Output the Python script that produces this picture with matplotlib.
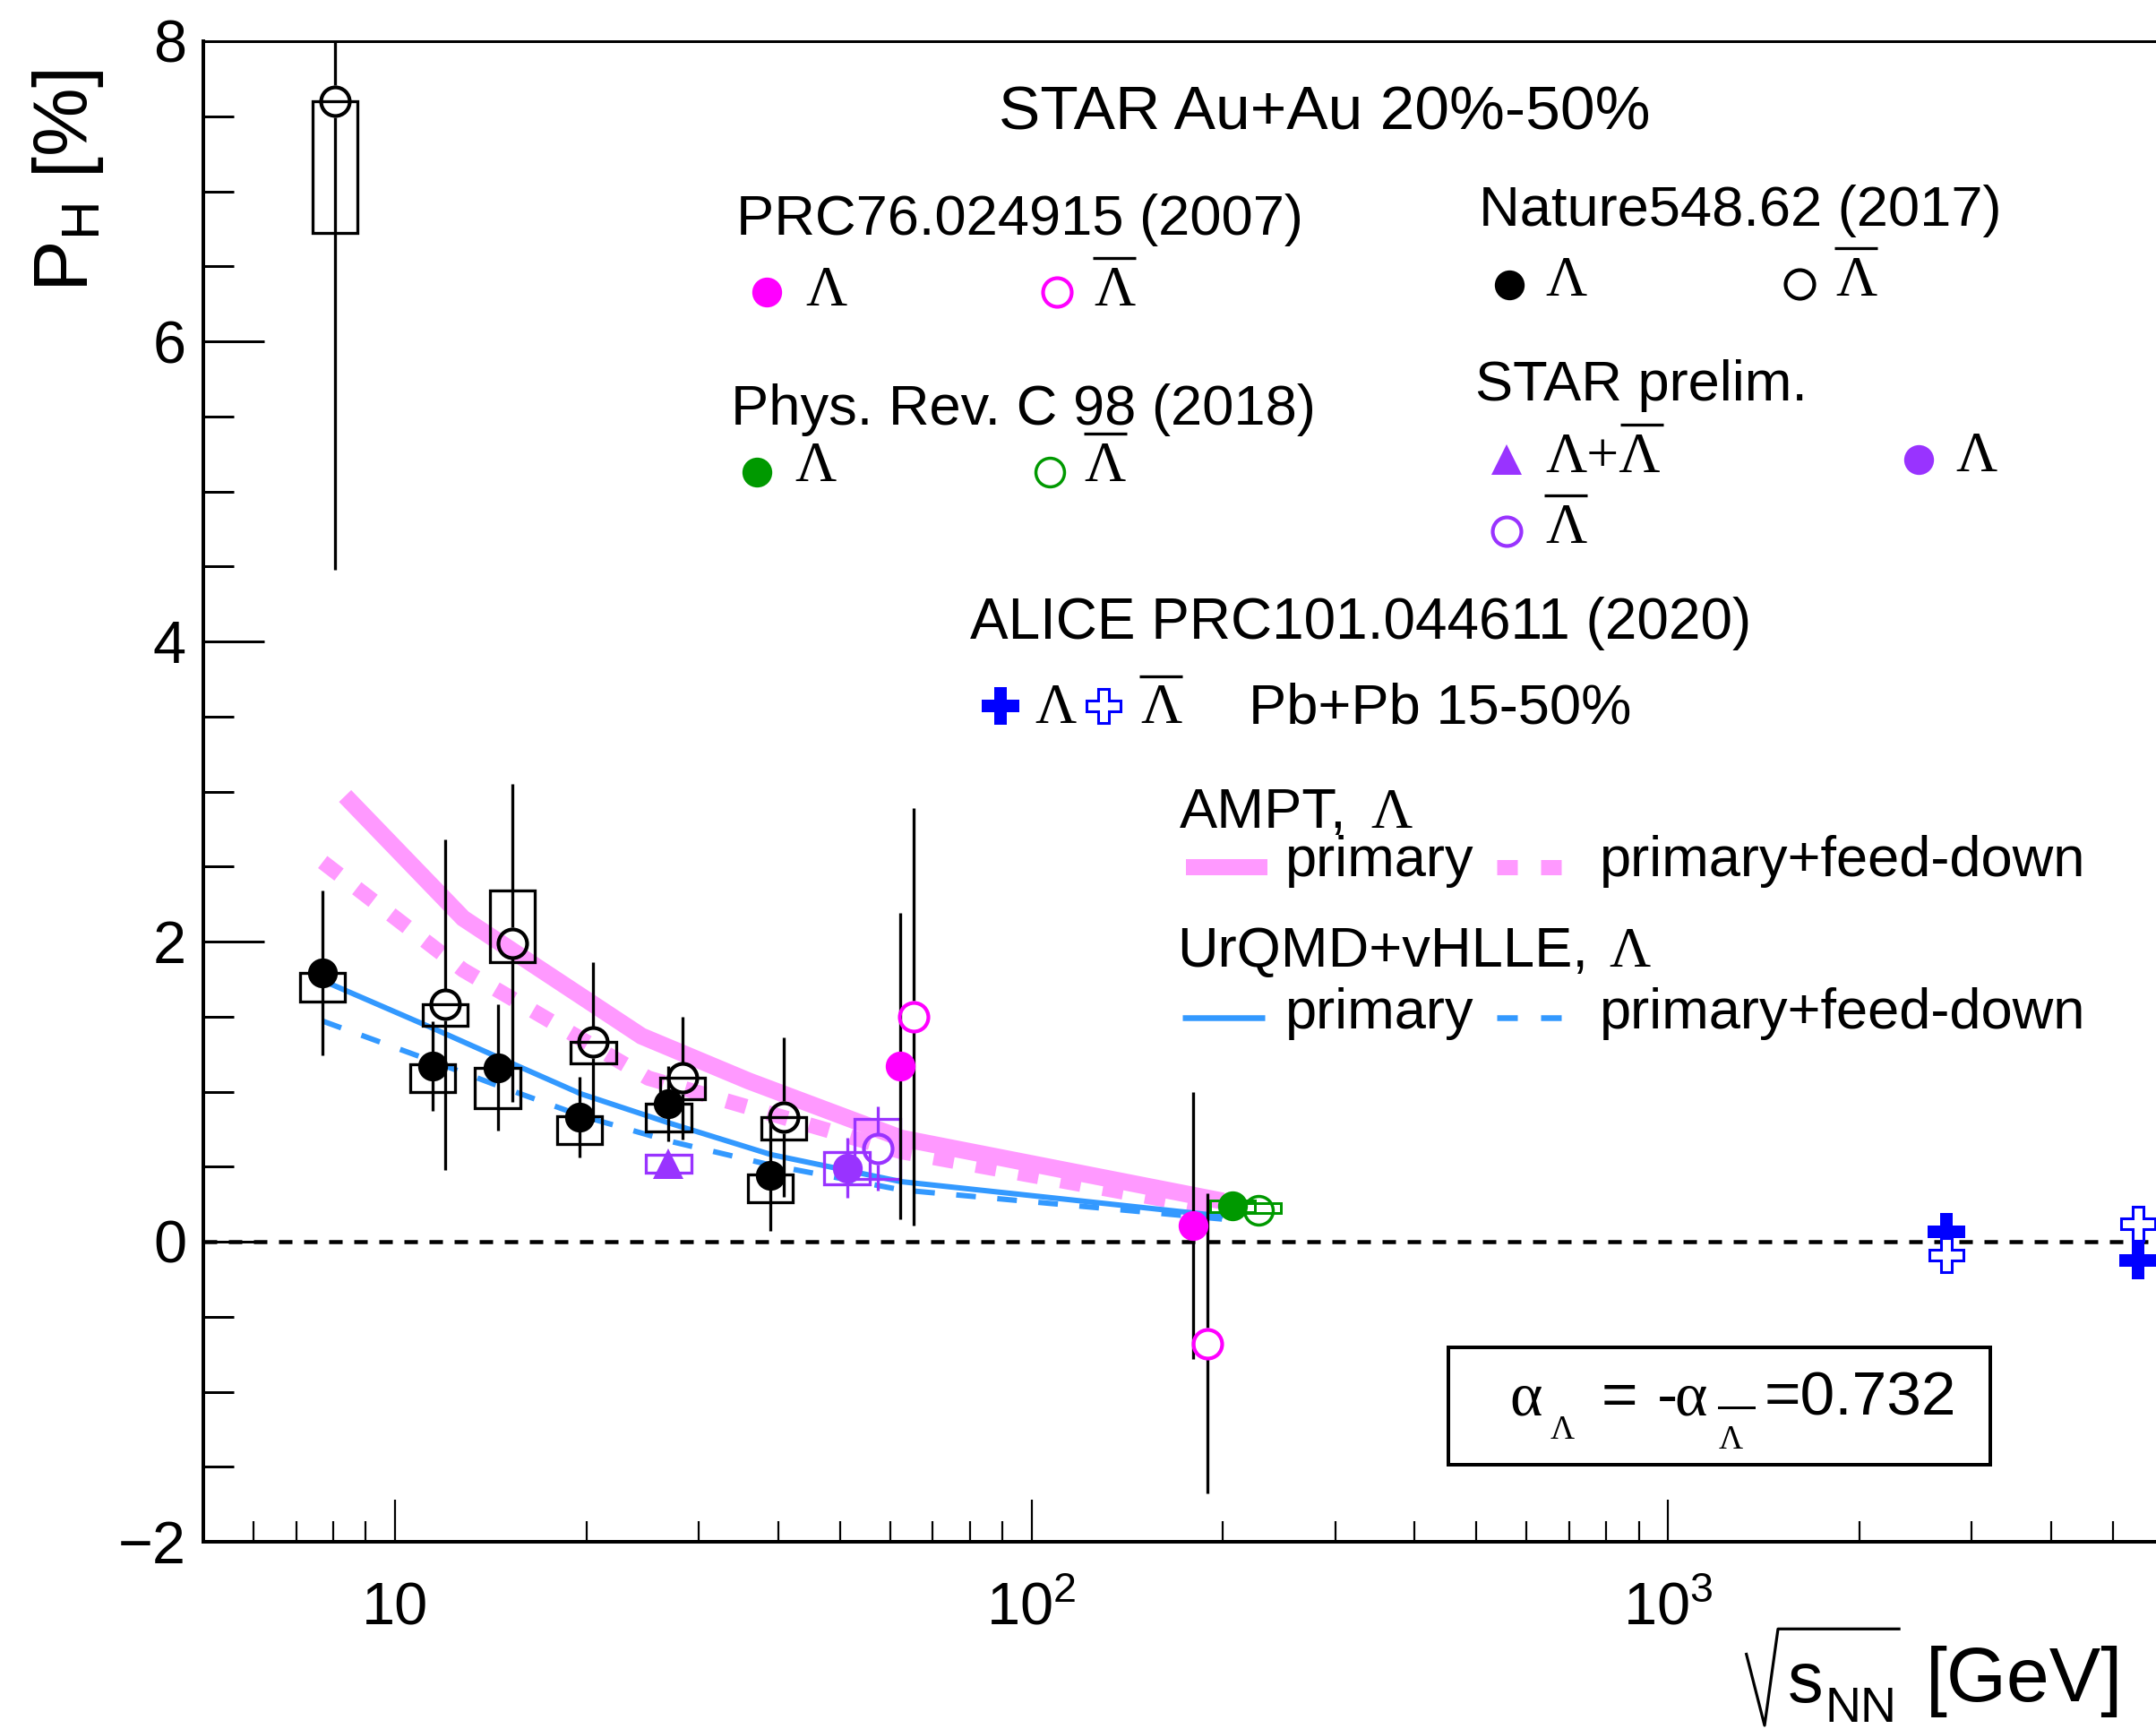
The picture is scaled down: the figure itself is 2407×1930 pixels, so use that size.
import numpy as np
import matplotlib
matplotlib.use('Agg')
import matplotlib.pyplot as plt
from matplotlib.lines import Line2D
from matplotlib.patches import Rectangle
from matplotlib.ticker import FixedLocator, LogLocator, NullFormatter, FixedFormatter, MultipleLocator

plt.rcParams['font.family'] = ['Liberation Sans', 'DejaVu Sans']
plt.rcParams['mathtext.fontset'] = 'custom'
plt.rcParams['mathtext.rm'] = 'Liberation Sans'
plt.rcParams['mathtext.it'] = 'Liberation Sans:italic'
plt.rcParams['mathtext.bf'] = 'Liberation Sans:bold'
plt.rcParams['mathtext.sf'] = 'Liberation Sans'
plt.rcParams['mathtext.default'] = 'rm'
plt.rcParams['lines.scale_dashes'] = False

# ---------------- data ----------------
# STAR Nature 548, 62 (2017)
nat_lam_x = [7.69, 11.46, 14.5, 19.5, 26.9, 38.9]
nat_lam_p = [1.79, 1.17, 1.16, 0.83, 0.92, 0.44]
nat_lam_err = [0.55, 0.30, 0.42, 0.27, 0.25, 0.37]
nat_lam_sys_lo = [1.60, 0.995, 0.89, 0.65, 0.735, 0.26]
nat_lam_sys_hi = [1.79, 1.18, 1.16, 0.835, 0.92, 0.445]

nat_alam_x = [8.05, 12.0, 15.3, 20.5, 28.3, 40.8]
nat_alam_p = [7.60, 1.58, 1.99, 1.33, 1.09, 0.83]
nat_alam_err = [3.12, 1.10, 1.06, 0.53, 0.41, 0.53]
nat_alam_sys_lo = [6.72, 1.44, 1.86, 1.19, 0.95, 0.68]
nat_alam_sys_hi = [7.60, 1.58, 2.34, 1.33, 1.09, 0.83]

# STAR preliminary
pre_sum_x = [26.9]
pre_sum_p = [0.52]
pre_sum_sys_lo = [0.46]
pre_sum_sys_hi = [0.58]

pre_lam_x = [51.3]
pre_lam_p = [0.49]
pre_lam_err = [0.20]
pre_lam_sys_lo = [0.38]
pre_lam_sys_hi = [0.60]

pre_alam_x = [57.3]
pre_alam_p = [0.62]
pre_alam_err = [0.28]
pre_alam_sys_lo = [0.42]
pre_alam_sys_hi = [0.82]

# PRC 76, 024915 (2007)
prc76_lam_x = [62.2, 179.6]
prc76_lam_p = [1.17, 0.11]
prc76_lam_err = [1.02, 0.89]
prc76_alam_x = [65.3, 189.0]
prc76_alam_p = [1.50, -0.68]
prc76_alam_err = [1.39, 1.00]

# Phys. Rev. C 98 (2018)
prc98_lam_x = [207.0]
prc98_lam_p = [0.24]
prc98_lam_sys_lo = [0.20]
prc98_lam_sys_hi = [0.275]
prc98_alam_x = [227.5]
prc98_alam_p = [0.21]
prc98_alam_sys_lo = [0.19]
prc98_alam_sys_hi = [0.255]

# ALICE PRC 101, 044611 (2020)
alice_lam_x = [2742, 5478]
alice_lam_p = [0.066, -0.125]
alice_alam_x = [2742, 5478]
alice_alam_p = [-0.09, 0.12]

# models
ampt_prim_x = [8.35, 12.8, 24.4, 36.0, 62.4, 200]
ampt_prim_p = [2.97, 2.155, 1.37, 1.07, 0.69, 0.27]
ampt_fd_x = [7.7, 12.8, 25.0, 62.4, 200]
ampt_fd_p = [2.53, 1.81, 1.09, 0.60, 0.21]
urqmd_x = [7.7, 11.5, 14.5, 19.6, 27, 39, 62.4, 200]
urqmd_prim_p = [1.74, 1.42, 1.23, 0.985, 0.79, 0.58, 0.40, 0.17]
urqmd_fd_p = [1.47, 1.20, 1.04, 0.84, 0.67, 0.51, 0.345, 0.15]

# ---------------- styles ----------------
W, H = 2407, 1930
PT = 72 / 100.0  # px -> pt
C_PINK = '#ff99ff'
C_BLUE = '#3399ff'
C_MAG = '#ff00ff'
C_GREEN = '#009900'
C_PURP = '#9933ff'
C_ALICE = '#0000ff'

fig = plt.figure(figsize=(W / 100, H / 100), dpi=100)
ax = fig.add_axes([227 / W, 1 - 1721 / H, (W - 227) / W, (1721 - 46) / H])
ax.set_xscale('log')
ax.set_xlim(5, 5845)
ax.set_ylim(-2, 8)

ax.spines['right'].set_visible(False)
ax.spines['left'].set_linewidth(4 * PT)
ax.spines['bottom'].set_linewidth(4 * PT)
ax.spines['top'].set_linewidth(3 * PT)

ax.xaxis.set_major_locator(FixedLocator([10, 100, 1000]))
ax.xaxis.set_major_formatter(FixedFormatter(['10', '$10^{2}$', '$10^{3}$']))
ax.xaxis.set_minor_locator(LogLocator(base=10, subs=np.arange(2, 10), numticks=50))
ax.xaxis.set_minor_formatter(NullFormatter())
ax.yaxis.set_major_locator(FixedLocator([-2, 0, 2, 4, 6, 8]))
ax.yaxis.set_minor_locator(MultipleLocator(0.5))

ax.tick_params(axis='y', which='major', direction='in', length=68 * PT, width=3 * PT,
               labelsize=48, pad=19 * PT, right=False)
ax.tick_params(axis='y', which='minor', direction='in', length=34 * PT, width=3 * PT, right=False)
ax.tick_params(axis='x', which='major', direction='in', length=47 * PT, width=2.2 * PT,
               labelsize=48, pad=92 * PT, top=False)
ax.tick_params(axis='x', which='minor', direction='in', length=23 * PT, width=2.2 * PT, top=False)

# zero line
ax.axhline(0, color='k', lw=4.5 * PT, dashes=(15 * PT, 13 * PT), zorder=1.5)

# model curves
ax.plot(ampt_prim_x, ampt_prim_p, color=C_PINK, lw=19 * PT, solid_capstyle='butt',
        solid_joinstyle='miter', zorder=1)
ax.plot(ampt_fd_x, ampt_fd_p, color=C_PINK, lw=17 * PT, dashes=(23 * PT, 25 * PT),
        dash_capstyle='butt', zorder=1)
ax.plot(urqmd_x, urqmd_prim_p, color=C_BLUE, lw=6 * PT, solid_capstyle='butt', zorder=1.2)
ax.plot(urqmd_x, urqmd_fd_p, color=C_BLUE, lw=6 * PT, dashes=(22 * PT, 24 * PT),
        dash_capstyle='butt', zorder=1.2)

BOXF = 10 ** 0.0355
GAP = 0.105


def sysboxes(xs, lo, hi, color, lw):
    for xi, l, h in zip(xs, lo, hi):
        x0, x1 = xi / BOXF, xi * BOXF
        ax.add_patch(Rectangle((x0, l), x1 - x0, h - l, fill=False, ec=color, lw=lw, zorder=2))


def errbars(xs, ps, errs, color, lw, gap):
    for xi, pi, ei in zip(xs, ps, errs):
        if ei > gap:
            ax.vlines([xi, xi], [pi + gap, pi - ei], [pi + ei, pi - gap], color=color, lw=lw, zorder=3)


# boxes
sysboxes(nat_lam_x, nat_lam_sys_lo, nat_lam_sys_hi, 'k', 3.3 * PT)
sysboxes(nat_alam_x, nat_alam_sys_lo, nat_alam_sys_hi, 'k', 3.3 * PT)
sysboxes(pre_sum_x, pre_sum_sys_lo, pre_sum_sys_hi, C_PURP, 3.3 * PT)
sysboxes(pre_lam_x, pre_lam_sys_lo, pre_lam_sys_hi, C_PURP, 3.3 * PT)
sysboxes(pre_alam_x, pre_alam_sys_lo, pre_alam_sys_hi, C_PURP, 3.3 * PT)
sysboxes(prc98_lam_x, prc98_lam_sys_lo, prc98_lam_sys_hi, C_GREEN, 3 * PT)
sysboxes(prc98_alam_x, prc98_alam_sys_lo, prc98_alam_sys_hi, C_GREEN, 3 * PT)

# error bars
errbars(nat_lam_x, nat_lam_p, nat_lam_err, 'k', 3.3 * PT, 0)
errbars(nat_alam_x, nat_alam_p, nat_alam_err, 'k', 3.3 * PT, GAP)
errbars(prc76_lam_x, prc76_lam_p, prc76_lam_err, 'k', 3.3 * PT, 0)
errbars(prc76_alam_x, prc76_alam_p, prc76_alam_err, 'k', 3.3 * PT, GAP)
errbars(pre_lam_x, pre_lam_p, pre_lam_err, C_PURP, 3.3 * PT, 0)
errbars(pre_alam_x, pre_alam_p, pre_alam_err, C_PURP, 3.3 * PT, GAP)

MS_F = 24.0
MS_O = 23.0
MEW = 3.0
# markers
ax.plot(nat_lam_x, nat_lam_p, 'o', ms=MS_F, mfc='k', mec='k', mew=0, zorder=4)
ax.plot(nat_alam_x, nat_alam_p, 'o', ms=MS_O, mfc='none', mec='k', mew=MEW, zorder=4)
ax.plot(prc76_lam_x, prc76_lam_p, 'o', ms=MS_F, mfc=C_MAG, mec=C_MAG, mew=0, zorder=4)
ax.plot(prc76_alam_x, prc76_alam_p, 'o', ms=MS_O, mfc='none', mec=C_MAG, mew=MEW, zorder=4)
ax.plot(pre_sum_x, pre_sum_p, '^', ms=MS_F, mfc=C_PURP, mec=C_PURP, mew=0, zorder=4)
ax.plot(pre_lam_x, pre_lam_p, 'o', ms=MS_F, mfc=C_PURP, mec=C_PURP, mew=0, zorder=4)
ax.plot(pre_alam_x, pre_alam_p, 'o', ms=MS_O, mfc='none', mec=C_PURP, mew=MEW, zorder=4)
ax.plot(prc98_lam_x, prc98_lam_p, 'o', ms=MS_F, mfc=C_GREEN, mec=C_GREEN, mew=0, zorder=4)
ax.plot(prc98_alam_x, prc98_alam_p, 'o', ms=MS_O, mfc='none', mec=C_GREEN, mew=2.5, zorder=4)
ax.plot(alice_lam_x, alice_lam_p, 'P', ms=30, mfc=C_ALICE, mec=C_ALICE, mew=0, zorder=4)
ax.plot(alice_alam_x, alice_alam_p, 'P', ms=28, mfc='white', mec=C_ALICE, mew=2.2, zorder=5)

for t in ax.xaxis.get_major_ticks():
    t.label1.set_verticalalignment('baseline')


# ---------------- annotations (figure pixel coords, y from top) ----------------
def fx(x):
    return x / W


def fy(y):
    return 1 - y / H


def ftext(x, y, s, size, serif=False, **kw):
    fam = ['Liberation Serif', 'DejaVu Serif'] if serif else ['Liberation Sans', 'DejaVu Sans']
    fig.text(fx(x), fy(y), s, fontsize=size, family=fam, ha='left', va='baseline', **kw)


def fline(xs, ys, lw, color='k', **kw):
    fig.add_artist(Line2D([fx(v) for v in xs], [fy(v) for v in ys], lw=lw, color=color,
                          transform=fig.transFigure, solid_capstyle='butt', **kw))


def fmark(x, y, marker, ms, mfc, mec, mew=0):
    fig.add_artist(Line2D([fx(x)], [fy(y)], marker=marker, ms=ms, mfc=mfc, mec=mec, mew=mew,
                          linestyle='none', transform=fig.transFigure))


LS = 45.5  # legend text size
GS = 46    # greek size


def lam(x, base, bar=False):
    ftext(x, base, 'Λ', GS, serif=True)
    if bar:
        fline([x - 1, x + 47], [base - 53, base - 53], 3.3 * PT)


ftext(1115, 144.6, 'STAR Au+Au 20%-50%', 50)

ftext(821.5, 261.8, 'PRC76.024915 (2007)', LS)
fmark(855.7, 326, 'o', MS_F, C_MAG, C_MAG)
lam(899, 341)
fmark(1179.5, 326, 'o', MS_O, 'none', C_MAG, MEW)
lam(1221, 341, bar=True)

ftext(1651, 251.7, 'Nature548.62 (2017)', LS)
fmark(1685, 317.7, 'o', MS_F, 'k', 'k')
lam(1725, 330)
fmark(2009, 316.7, 'o', MS_O, 'none', 'k', MEW)
lam(2049.3, 330, bar=True)

ftext(816.3, 473.6, 'Phys. Rev. C 98 (2018)', LS)
fmark(845.4, 527, 'o', MS_F, C_GREEN, C_GREEN)
lam(887, 537)
fmark(1172, 527, 'o', MS_O, 'none', C_GREEN, 2.5)
lam(1210.6, 537, bar=True)

ftext(1647.3, 447.3, 'STAR prelim.', LS)
fmark(1681.7, 513.3, '^', MS_F, C_PURP, C_PURP)
ftext(1725, 526.7, 'Λ+Λ', GS, serif=True)
fline([1809.3, 1856.7], [474, 474], 3.3 * PT)
fmark(2142.3, 513.3, 'o', MS_F, C_PURP, C_PURP)
lam(2183, 526)
fmark(1681.7, 593.3, 'o', MS_O, 'none', C_PURP, MEW)
lam(1725, 606, bar=True)

ftext(1082.9, 712.6, 'ALICE PRC101.044611 (2020)', 46)
fmark(1116.6, 788.4, 'P', 30, C_ALICE, C_ALICE)
lam(1155.6, 807.5)
fmark(1231.7, 788.4, 'P', 28, 'white', C_ALICE, 2.2)
lam(1273.3, 807.5, bar=True)
ftext(1394.4, 807.5, 'Pb+Pb 15-50%', LS)

ftext(1316.5, 924.2, 'AMPT,', LS)
ftext(1530, 924.2, 'Λ', GS, serif=True)
fline([1324.3, 1415.2], [968.3, 968.3], 18 * PT, C_PINK)
ftext(1435, 977.8, 'primary', LS)
fline([1671.4, 1744], [968.3, 968.3], 17 * PT, C_PINK, dashes=(23 * PT, 26 * PT))
ftext(1785.6, 977.8, 'primary+feed-down', LS)

ftext(1314, 1079.2, 'UrQMD+vHLLE,', LS)
ftext(1796, 1079.2, 'Λ', GS, serif=True)
fline([1320, 1411.7], [1135.5, 1135.5], 6.5 * PT, C_BLUE)
ftext(1435, 1148.1, 'primary', LS)
fline([1671.4, 1744], [1135.5, 1135.5], 6.5 * PT, C_BLUE, dashes=(23 * PT, 26 * PT))
ftext(1785.6, 1148.1, 'primary+feed-down', LS)

# alpha box
fig.add_artist(Rectangle((fx(1616.6), fy(1635)), (2221.9 - 1616.6) / W, (1635 - 1504) / H,
                         transform=fig.transFigure, fill=True, fc='white', ec='k', lw=4 * PT, zorder=6))
box_kw = dict(zorder=7)
ftext(1685, 1580, 'α', 50, serif=True, **box_kw)
ftext(1731, 1606, 'Λ', 27, serif=True, **box_kw)
ftext(1788, 1580, '=', 50, **box_kw)
ftext(1850, 1580, '-', 50, **box_kw)
ftext(1869, 1580, 'α', 50, serif=True, **box_kw)
ftext(1919, 1617, 'Λ', 27, serif=True, **box_kw)
fig.add_artist(Line2D([fx(1919), fx(1958)], [fy(1570.7), fy(1570.7)], lw=3 * PT, color='k',
                      transform=fig.transFigure, zorder=7))
ftext(1970, 1580, '=0.732', 50, **box_kw)

# y axis title
fig.text(fx(98), fy(202), r'$\mathrm{P}_{\mathrm{H}}$ [%]', fontsize=62, rotation=90,
         rotation_mode='anchor', ha='center', va='baseline')

# x axis title
fline([1949.3, 1970, 1985, 2121.7], [1845, 1926, 1818.3, 1818.3], 3.2 * PT)
ftext(1996, 1900, 's', 57)
ftext(2038, 1922, 'NN', 40)
ftext(2150, 1899, '[GeV]', 62)

fig.savefig('out.png', dpi=100)
